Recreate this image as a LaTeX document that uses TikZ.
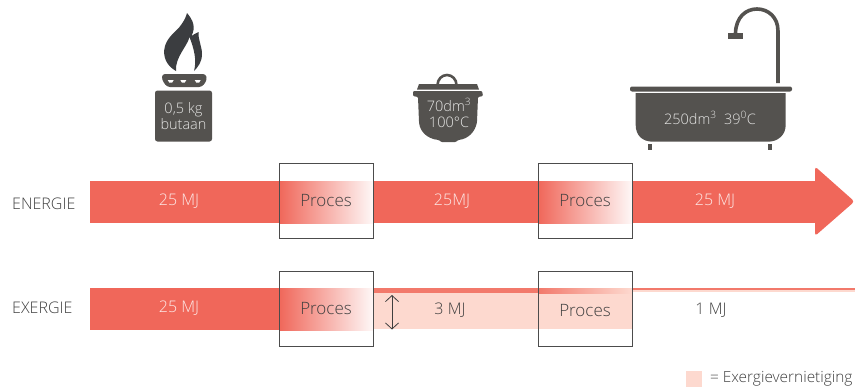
\documentclass[tikz,border=0pt]{standalone}
\usepackage{fontspec}
\setmainfont{Open Sans Light}[BoldFont={Open Sans}]
\usetikzlibrary{arrows.meta}
\definecolor{coral}{HTML}{F0675A}
\definecolor{pale}{HTML}{FDD9CF}
\definecolor{stripe}{HTML}{F2796B}
\definecolor{dark}{HTML}{54524F}
\definecolor{flame}{HTML}{3B3D40}
\definecolor{txt}{HTML}{3F3F3F}
\tikzset{
  procbox/.style={draw=black!70,line width=0.9pt,minimum width=94pt,minimum height=75pt,inner sep=0pt,fill=none},
  proclabel/.style={font=\fontsize{17}{17}\selectfont,text=txt},
  barlabel/.style={font=\fontsize{16}{16}\selectfont,text=white!85!coral},
  darklabel/.style={font=\fontsize{16}{16}\selectfont,text=txt},
  rowlabel/.style={font=\fontsize{16}{16}\selectfont,text=txt,anchor=west},
  iconlabel/.style={font=\fontsize{14.5}{16}\selectfont,text=white!85!dark,align=center},
  fadebar/.style={left color=coral,right color=coral!5!white},
}
\begin{document}
\begin{tikzpicture}[x=1pt,y=-1pt]
\useasboundingbox (0,0) rectangle (862,388);
% energy arrow
\fill[coral] (90,181) rectangle (816,223);
\fill[coral,rounded corners=3pt] (815,166.5) -- (854.5,201.5) -- (815,236) -- cycle;
% energy gradient
\shade[fadebar] (279,181) rectangle (373,223);
\shade[fadebar] (538,181) rectangle (632,223);
% exergy bars
\fill[coral] (90,288) rectangle (279,330);
\shade[fadebar] (279,288) rectangle (373,330);
\fill[pale] (374,288) rectangle (633,329);
\fill[stripe] (374,288) rectangle (538,293);
\shade[left color=stripe,right color=pale] (538,288) rectangle (632,293);
\fill[stripe] (633,287.5) rectangle (855,290);
\fill[pale] (633,290) rectangle (855,291.5);
% process boxes
\node[procbox] (p1) at (326,200.5) {};
\node[procbox] (p2) at (585,200.5) {};
\node[procbox] (p3) at (326,308.5) {};
\node[procbox] (p4) at (585,308.5) {};
\node[proclabel] at (326,201) {Proces};
\node[proclabel] at (585,201) {Proces};
\node[proclabel] at (326,309) {Proces};
\node[proclabel] at (585,311) {Proces};
% labels
\node[rowlabel] (en) at (8.7,204) {ENERGIE};
\node[rowlabel] (ex) at (8.7,308) {EXERGIE};
\node[barlabel] (a) at (179,201.5) {25 MJ};
\node[barlabel] (b) at (452,201.5) {25MJ};
\node[barlabel] (c) at (715,201.5) {25 MJ};
\node[barlabel] (d) at (179,308.5) {25 MJ};
\node[darklabel] (e) at (450,310.5) {3 MJ};
\node[darklabel] (f) at (711,310.5) {1 MJ};
% double arrow
\coordinate (up) at (392,295);
\coordinate (dn) at (392,329.5);
\draw[txt,line width=0.8pt,{Straight Barb[length=6pt,width=13pt]}-{Straight Barb[length=6pt,width=13pt]}] (up) -- (dn);
% legend
\fill[pale] (686,371) rectangle (702,387);
\node[anchor=west,font=\fontsize{15.4}{15.4}\selectfont,text=txt] (lg) at (706.5,379) {= Exergievernietiging};
% flame
\fill[flame]
 (176,71) .. controls (167,66) and (162,57) .. (165,46)
 .. controls (168,36) and (177,31) .. (181,25) .. controls (184,21) and (186,17) .. (187,13)
 .. controls (193,20) and (196,27) .. (191.5,36) .. controls (193,35) and (196,33) .. (198.5,32)
 .. controls (198,40) and (202,46) .. (202,54) .. controls (202,62) and (198,67) .. (194,71)
 .. controls (197,60) and (194,49) .. (189.5,37) .. controls (187,47) and (175,57) .. (176,71) -- cycle;
% burner
\fill[dark,rounded corners=3pt] (162,74) -- (206,74) -- (207,80) -- (202,87) -- (167,87) -- (162,80) -- cycle;
\foreach \xx in {170.7,183.3,197.7}{\fill[white] (\xx-3,80) -- (\xx+3,80) -- (\xx+1.5,82.5) -- (\xx-1.5,82.5) -- cycle;}
% gas can
\node[fill=dark,rounded corners=2.5pt,minimum width=57pt,minimum height=51pt,inner sep=0pt,iconlabel] (can) at (183.5,116) {0,5 kg\\butaan};
% pot
\draw[dark,line width=2.6pt] (437.5,85) arc[start angle=180,end angle=360,x radius=9.5,y radius=10];
\fill[dark] (417,89.5) -- (419,84) -- (477,84) -- (479,89.5) -- cycle;
\fill[dark,rounded corners=1pt] (413,91) -- (482,91) -- (483,96) -- (478,97) -- (477,122) .. controls (475,132) and (468,139) .. (458,140) -- (456,142) -- (441,142) -- (439,140) .. controls (428,139) and (420,132) .. (419,122) -- (418,97) -- (413,96) -- cycle;
\node[iconlabel] (pot) at (449,113) {70dm\textsuperscript{3}\\100°C};
% bath
\fill[dark,rounded corners=2pt] (630,86.5) rectangle (792,91.5);
\fill[dark] (635.7,93) -- (785.7,93) -- (785.7,125) .. controls (785.7,135) and (778,141.7) .. (768,141.7) -- (653,141.7) .. controls (642,141.7) and (635.7,135) .. (635.7,125) -- cycle;
\fill[dark] (648,143.5) rectangle (652,150);
\fill[dark] (768,143.5) rectangle (772,150);
\draw[dark,line width=3.6pt] (778,83) -- (778,31) .. controls (778,17) and (768,9) .. (757,9) .. controls (746,9) and (736,17) .. (735.5,33);
\fill[dark] (727.7,33) rectangle (743.3,35.5);
\fill[dark] (728,36) rectangle (743,38.7);
\node[iconlabel] (bath) at (710,118) {250dm\textsuperscript{3}\ \ 39\textsuperscript{0}C};
\end{tikzpicture}
\end{document}
